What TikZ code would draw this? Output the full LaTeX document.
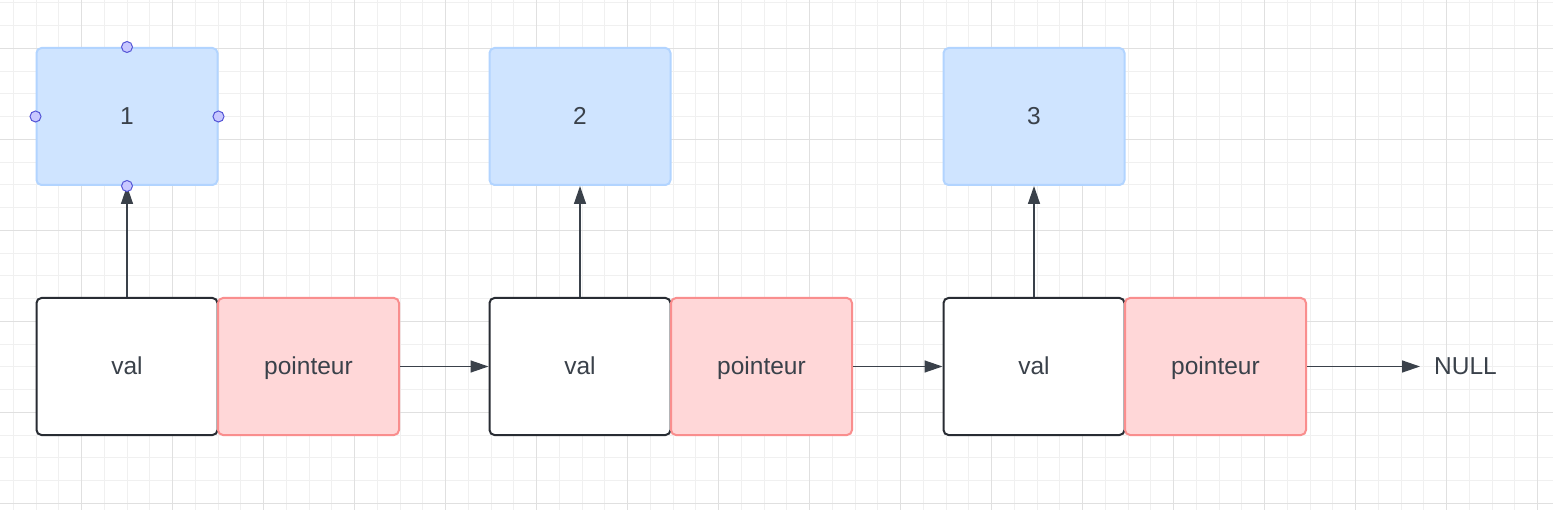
\documentclass[tikz,border=0pt]{standalone}
\usepackage{fontspec}
\setmainfont{Liberation Sans}
\usetikzlibrary{arrows.meta}
\definecolor{txt}{HTML}{3A414A}
\definecolor{bluefill}{HTML}{CFE4FF}
\definecolor{bluedraw}{HTML}{B2D4FF}
\definecolor{redfill}{HTML}{FFD7D8}
\definecolor{reddraw}{HTML}{F98E8E}
\definecolor{valdraw}{HTML}{282C33}
\definecolor{gridminor}{HTML}{F0F0F0}
\definecolor{gridmajor}{HTML}{E0E0E0}
\definecolor{handlefill}{HTML}{C8C8FF}
\definecolor{handledraw}{HTML}{5555D6}
\begin{document}
\begin{tikzpicture}[x=1pt,y=-1pt,
  every node/.style={font=\fontsize{24.5pt}{29pt}\selectfont, text=txt, text height=15.6pt, text depth=0pt},
  cell/.style={rectangle, rounded corners=5pt, minimum width=181pt, minimum height=137pt, line width=2pt, inner sep=0pt},
  databox/.style={cell, fill=bluefill, draw=bluedraw},
  valbox/.style={cell, fill=white, draw=valdraw},
  ptrbox/.style={cell, fill=redfill, draw=reddraw},
  link/.style={draw=txt, line width=1.4pt, -{Triangle[length=18pt,width=12pt]}},
  handle/.style={circle, fill=handlefill, draw=handledraw, line width=1pt, minimum size=11pt, inner sep=0pt, text height=, text depth=}]
\useasboundingbox (0,0) rectangle (1553,510);
\fill[white] (0,0) rectangle (1553,510);
% grid
\foreach \i in {0,...,68} {
  \draw[gridminor, line width=1pt] ({13.45+22.75*\i},0) -- ({13.45+22.75*\i},510);
}
\foreach \j in {0,...,22} {
  \draw[gridminor, line width=1pt] (0,{2.8+22.75*\j}) -- (1553,{2.8+22.75*\j});
}
\foreach \i in {0,...,17} {
  \draw[gridmajor, line width=1pt] ({81.7+91*\i},0) -- ({81.7+91*\i},510);
}
\foreach \j in {0,...,5} {
  \draw[gridmajor, line width=1pt] (0,{48.3+91*\j}) -- (1553,{48.3+91*\j});
}
% data boxes
\node[databox] (d1) at (127,116.5) {1};
\node[databox] (d2) at (580,116.5) {2};
\node[databox] (d3) at (1034,116.5) {3};
% val boxes
\node[valbox] (v1) at (127,366.5) {val};
\node[valbox] (v2) at (580,366.5) {val};
\node[valbox] (v3) at (1034,366.5) {val};
% pointer boxes
\node[ptrbox] (p1) at (308.5,366.5) {pointeur};
\node[ptrbox] (p2) at (761.5,366.5) {pointeur};
\node[ptrbox] (p3) at (1215.5,366.5) {pointeur};
\node[inner xsep=14pt, inner ysep=0pt, anchor=west] (null) at (1420,366.5) {NULL};
% connectors
\draw[link] (v1.north) -- (d1.south);
\draw[link] (v2.north) -- (d2.south);
\draw[link] (v3.north) -- (d3.south);
\draw[link] (p1.east) -- (v2.west);
\draw[link] (p2.east) -- (v3.west);
\draw[link] (p3.east) -- (null.west);
% selection handles
\node[handle] (h1) at (d1.north) {};
\node[handle] (h2) at (d1.south) {};
\node[handle] (h3) at (d1.east) {};
\node[handle] (h4) at (d1.west) {};
\end{tikzpicture}
\end{document}
